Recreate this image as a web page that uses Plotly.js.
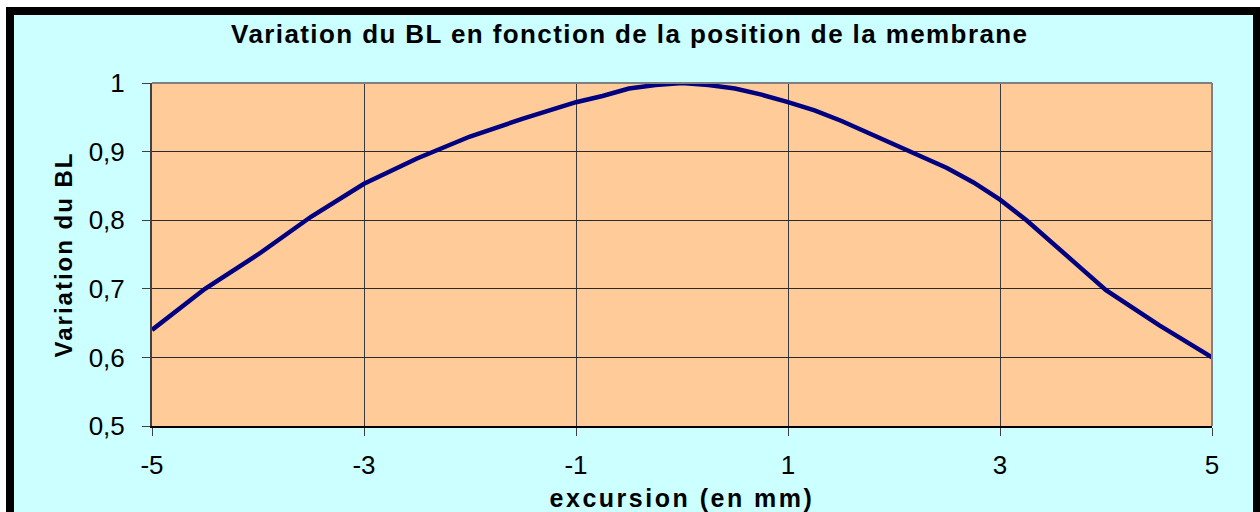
<!DOCTYPE html>
<html>
<head>
<meta charset="utf-8">
<script src="https://cdn.plot.ly/plotly-3.0.1.min.js"></script>
<style>
  html, body { margin: 0; padding: 0; background: #ffffff; overflow: hidden; }
  #frame {
    position: absolute; left: 6px; top: 7px;
    width: 1239px; height: 505px;
    border: 8px solid #000000;
    background: #CCFFFF;
  }
  #chart { width: 1239px; height: 505px; }
  .gtitle { letter-spacing: 1.4px; }
  .xtitle { letter-spacing: 2.5px; }
  .ytitle { letter-spacing: 2px; }
</style>
</head>
<body>
<div id="frame"><div id="chart"></div></div>
<script>
const excursion = [-5, -4.5, -4, -3.5, -3, -2.5, -2, -1.5, -1, -0.75, -0.5, -0.25, 0, 0.25, 0.5, 0.75, 1, 1.25, 1.5, 2, 2.5, 2.75, 3, 3.25, 3.5, 3.75, 4, 4.5, 5];
const variationBL = [0.64, 0.70, 0.75, 0.805, 0.853, 0.89, 0.922, 0.948, 0.972, 0.981, 0.992, 0.997, 1.0, 0.997, 0.992, 0.983, 0.972, 0.96, 0.945, 0.91, 0.876, 0.855, 0.83, 0.80, 0.765, 0.732, 0.698, 0.647, 0.60];
const xTicks = [-5, -3, -1, 1, 3, 5];
const xTickLabels = ['-5', '-3', '-1', '1', '3', '5'];
const yTicks = [0.5, 0.6, 0.7, 0.8, 0.9, 1];
const yTickLabels = ['0,5', '0,6', '0,7', '0,8', '0,9', '1'];
const chartTitle = 'Variation du BL en fonction de la position de la membrane';
const xTitle = 'excursion (en mm)';
const yTitle = 'Variation du BL';

const font = 'Liberation Sans, Arial, sans-serif';

const trace = {
  x: excursion, y: variationBL, type: 'scatter', mode: 'lines',
  line: { color: '#000080', width: 4.5, shape: 'linear' },
  hoverinfo: 'skip'
};

const layout = {
  width: 1239, height: 505,
  margin: { l: 138, r: 41, t: 68, b: 94 },
  paper_bgcolor: '#CCFFFF',
  plot_bgcolor: '#FFCC99',
  separators: ', ',
  showlegend: false,
  font: { family: font, color: '#000000', size: 26 },
  title: {
    text: '<b>' + chartTitle + '</b>',
    font: { family: font, size: 26, color: '#000000' },
    xref: 'container', x: 0.497, xanchor: 'center',
    yref: 'container', y: 0.963, yanchor: 'middle'
  },
  xaxis: {
    range: [-5, 5], tickmode: 'array', tickvals: xTicks, ticktext: xTickLabels,
    ticks: 'outside', ticklen: 8, tickwidth: 1, tickcolor: '#404040',
    ticklabelstandoff: 7,
    showgrid: true, gridcolor: '#3a3a3a', gridwidth: 1,
    showline: true, linecolor: '#000000', linewidth: 2,
    zeroline: false, fixedrange: true, automargin: false,
    tickfont: { family: font, size: 26, color: '#000000' },
    title: { text: '<b>' + xTitle + '</b>', standoff: 10,
      font: { family: font, size: 25, color: '#000000' } }
  },
  yaxis: {
    range: [0.5, 1], tickmode: 'array', tickvals: yTicks, ticktext: yTickLabels,
    ticks: 'outside', ticklen: 8, tickwidth: 1, tickcolor: '#404040',
    ticklabelstandoff: 12,
    showgrid: true, gridcolor: '#2a2a2a', gridwidth: 1,
    showline: true, linecolor: '#404040', linewidth: 2,
    zeroline: false, fixedrange: true, automargin: false,
    tickfont: { family: font, size: 26, color: '#000000' },
    title: { text: '<b>' + yTitle + '</b>', standoff: 9,
      font: { family: font, size: 24, color: '#000000' } }
  },
  shapes: [
    { type: 'line', xref: 'paper', yref: 'paper', x0: 0, x1: 1, y0: 1, y1: 1, line: { color: '#808080', width: 2 } },
    { type: 'line', xref: 'paper', yref: 'paper', x0: 1, x1: 1, y0: 0, y1: 1, line: { color: '#808080', width: 2 } }
  ]
};

Plotly.newPlot('chart', [trace], layout, { displayModeBar: false, staticPlot: true });
</script>
</body>
</html>
